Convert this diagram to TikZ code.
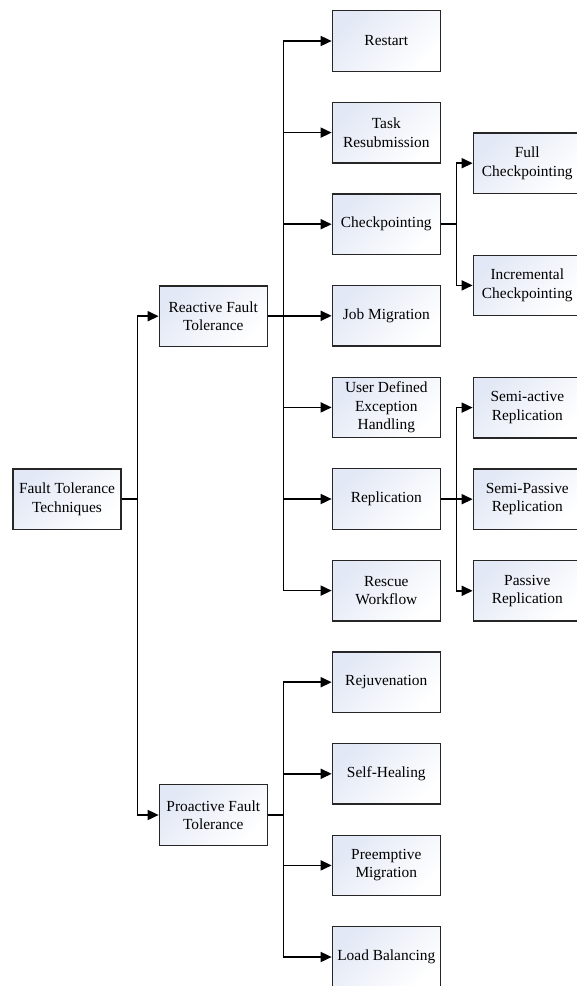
\documentclass[tikz,border=0pt]{standalone}
\usepackage{fontspec}
\setmainfont{Liberation Serif}
\usetikzlibrary{arrows.meta}
\definecolor{boxblue}{RGB}{226,232,245}
\tikzset{
  techbox/.style={draw=black!85, line width=1.3pt, minimum width=108pt, minimum height=60.5pt,
    align=center, inner sep=2pt, shading=axis, top color=boxblue, bottom color=white,
    shading angle=45, font=\fontsize{15.4}{18.3}\selectfont},
  branch/.style={line width=1.7pt, -{Triangle[length=11pt,width=10pt]}}
}
\begin{document}
\begin{tikzpicture}[x=1pt,y=-1pt]
        \useasboundingbox (0,0) rectangle (577,986);
        % Define branch points
        \coordinate (b1) at (137.5,0);
        \coordinate (b2) at (283.5,0);
        \coordinate (b3) at (456.5,0);

        % Root and main groups
        \node[techbox] (ftt) at (67,499.2) {Fault Tolerance\\Techniques};
        \node[techbox] (rft) at (213.3,316.2) {Reactive Fault\\Tolerance};
        \node[techbox] (pft) at (213.3,815) {Proactive Fault\\Tolerance};

        % Reactive techniques
        \node[techbox] (restart) at (386.3,41) {Restart};
        \node[techbox] (resub) at (386.3,132.6) {Task\\Resubmission};
        \node[techbox] (ckpt) at (386.3,224.2) {Checkpointing};
        \node[techbox] (jobmig) at (386.3,315.8) {Job Migration};
        \node[techbox] (userdef) at (386.3,407.4) {User Defined\\Exception\\Handling};
        \node[techbox] (repl) at (386.3,499) {Replication};
        \node[techbox] (rescue) at (386.3,590.6) {Rescue\\Workflow};

        % Proactive techniques
        \node[techbox] (rejuv) at (386.3,682.2) {Rejuvenation};
        \node[techbox] (selfheal) at (386.3,773.8) {Self-Healing};
        \node[techbox] (preempt) at (386.3,865.4) {Preemptive\\Migration};
        \node[techbox] (loadbal) at (386.3,957) {Load Balancing};

        % Sub-techniques
        \node[techbox] (fullckpt) at (527.3,163.2) {Full\\Checkpointing};
        \node[techbox] (incckpt) at (527.3,285.4) {Incremental\\Checkpointing};
        \node[techbox] (semiact) at (527.3,407.6) {Semi-active\\Replication};
        \node[techbox] (semipas) at (527.3,499.2) {Semi-Passive\\Replication};
        \node[techbox] (passive) at (527.3,590.8) {Passive\\Replication};

        % Draw connectors
        \foreach \child in {rft,pft}
          \draw[branch] (ftt.east) -| (b1 |- \child.west) -- (\child.west);
        \foreach \child in {restart,resub,ckpt,jobmig,userdef,repl,rescue}
          \draw[branch] (rft.east) -| (b2 |- \child.west) -- (\child.west);
        \foreach \child in {rejuv,selfheal,preempt,loadbal}
          \draw[branch] (pft.east) -| (b2 |- \child.west) -- (\child.west);
        \foreach \child in {fullckpt,incckpt}
          \draw[branch] (ckpt.east) -| (b3 |- \child.west) -- (\child.west);
        \foreach \child in {semiact,semipas,passive}
          \draw[branch] (repl.east) -| (b3 |- \child.west) -- (\child.west);
\end{tikzpicture}
\end{document}
